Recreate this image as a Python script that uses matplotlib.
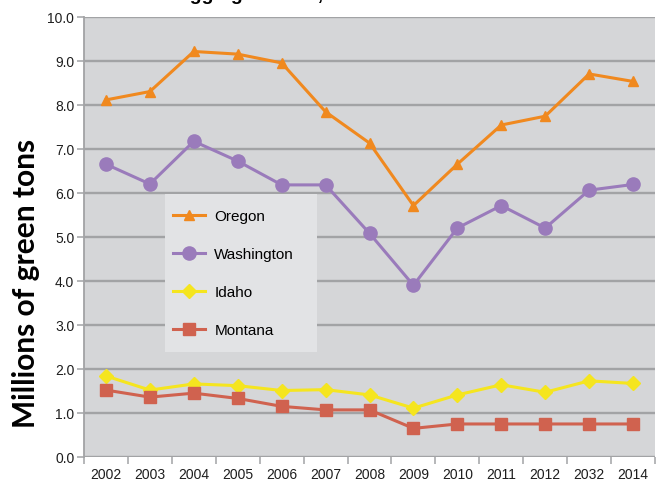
import numpy as np
import matplotlib.pyplot as plt
from matplotlib.patches import Rectangle

years = ['2002', '2003', '2004', '2005', '2006', '2007', '2008',
         '2009', '2010', '2011', '2012', '2032', '2014']
oregon = [8.11, 8.30, 9.21, 9.15, 8.95, 7.84, 7.13, 5.71, 6.65, 7.54, 7.74, 8.70, 8.53]
washington = [6.65, 6.20, 7.17, 6.72, 6.18, 6.18, 5.08, 3.90, 5.20, 5.71, 5.20, 6.06, 6.19]
idaho = [1.84, 1.52, 1.66, 1.62, 1.51, 1.53, 1.41, 1.11, 1.41, 1.64, 1.47, 1.73, 1.67]
montana = [1.52, 1.36, 1.45, 1.33, 1.15, 1.07, 1.07, 0.65, 0.75, 0.75, 0.75, 0.75, 0.75]

fig = plt.figure(figsize=(6.58, 4.85), dpi=100)
fig.patch.set_facecolor('white')
ax = fig.add_axes([84/658, 1 - 458/485, 571/658, 440.3/485])
ax.set_facecolor('#d5d6d8')

x = np.arange(len(years))
ax.plot(x, oregon, color='#f0891f', lw=2.2, marker='^', ms=6.5, label='Oregon', zorder=4)
ax.plot(x, washington, color='#9a7bbb', lw=2.2, marker='o', ms=9.5, label='Washington', zorder=4)
ax.plot(x, idaho, color='#f5e51f', lw=2.2, marker='D', ms=7, label='Idaho', zorder=4)
ax.plot(x, montana, color='#d0624f', lw=2.2, marker='s', ms=8.5, label='Montana', zorder=4)

ax.set_xlim(-0.5, len(years) - 0.5)
ax.set_ylim(0, 10)
ax.set_yticks(np.arange(0, 10.1, 1))
ax.set_yticklabels(['%.1f' % v for v in np.arange(0, 10.1, 1)])
ax.set_xticks(x)
ax.set_xticklabels(years)
ax.set_xticks(np.arange(-0.5, len(years), 1), minor=True)

ax.set_axisbelow(True)
ax.yaxis.grid(True, color='#a2a3a5', lw=1.7)
for s in ['top', 'right', 'bottom']:
    ax.spines[s].set_visible(False)
ax.spines['left'].set_color('#a2a3a5')
ax.spines['left'].set_linewidth(1.3)

ax.tick_params(axis='y', length=5, width=1.1, color='#a2a3a5', pad=2,
               labelsize=10, labelcolor='#1e1e1e')
ax.tick_params(axis='x', which='major', length=0, pad=7, labelsize=10, labelcolor='#1e1e1e')
ax.tick_params(axis='x', which='minor', length=5, width=1.1, color='#a2a3a5')
for lab in ax.get_xticklabels() + ax.get_yticklabels():
    lab.set_family('Liberation Sans')

# legend box
ax.add_patch(Rectangle((165/658, 1 - 353/485), 152/658, 158/485,
                       transform=fig.transFigure, facecolor='#e2e3e5',
                       edgecolor='none', zorder=2))
leg = ax.legend(loc='upper left', bbox_to_anchor=(159/658, 1 - 196/485),
                bbox_transform=fig.transFigure, frameon=False,
                prop={'family': 'Liberation Sans', 'size': 11},
                handlelength=2.1, handletextpad=0.6, labelspacing=1.58,
                borderpad=0.92, borderaxespad=0)
leg.set_zorder(5)

fig.text(26/658, 1 - 283/485, 'Millions of green tons', rotation=90,
         ha='center', va='center', fontsize=21.5, fontweight='bold', family='Lato')
fig.text(166/658, 1.0, 'Logging harvest, 2002\u20132014', ha='left', va='baseline',
         fontsize=14, fontweight='bold', family='Liberation Sans')

fig.savefig('out.png', dpi=100)
